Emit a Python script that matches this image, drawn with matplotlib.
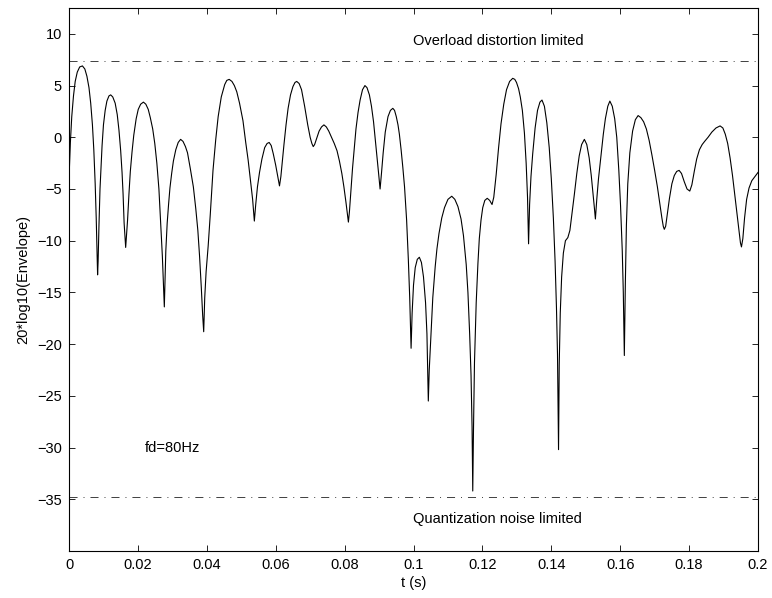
import matplotlib
matplotlib.use("Agg")
import matplotlib.pyplot as plt

plt.rcParams['font.family'] = ['Liberation Sans', 'DejaVu Sans']
plt.rcParams['lines.scale_dashes'] = False

# Envelope samples as (time s, level dB) pairs
samples = [
    (0.0000, -4.0), (0.0004, -0.5), (0.0008, 2.0), (0.0013, 4.0), (0.0018, 5.4), (0.0024, 6.3),
    (0.0031, 6.8), (0.0039, 6.9), (0.0046, 6.6), (0.0052, 5.9), (0.0058, 4.8), (0.0063, 3.3),
    (0.0068, 1.2), (0.0072, -1.2), (0.0076, -4.5), (0.0079, -7.8), (0.0081, -10.5), (0.0083, -13.3),
    (0.00845, -12.0), (0.0087, -8.5), (0.0090, -5.0), (0.0093, -2.8), (0.0096, -0.8), (0.0100, 1.2),
    (0.0105, 2.6), (0.0110, 3.5), (0.0116, 4.0), (0.0121, 4.1),
    (0.0127, 3.9), (0.0134, 3.3), (0.0140, 2.2), (0.0145, 0.7), (0.0150, -1.3), (0.0154, -3.4),
    (0.0157, -5.5), (0.0160, -8.3), (0.01645, -10.65),
    (0.0167, -9.5), (0.0170, -8.0), (0.0174, -5.5), (0.0178, -3.3), (0.0183, -1.4), (0.0188, 0.2),
    (0.0195, 1.8), (0.0201, 2.7), (0.0208, 3.2), (0.0216, 3.4),
    (0.0223, 3.2), (0.0230, 2.7), (0.0236, 1.9), (0.0243, 0.8), (0.0249, -0.6), (0.0255, -2.5),
    (0.0261, -5.0), (0.0266, -8.2), (0.0271, -11.5), (0.02743, -14.5), (0.02767, -16.4),
    (0.0279, -13.5), (0.0281, -11.0), (0.0285, -8.3), (0.0289, -6.5), (0.0293, -4.9), (0.0298, -3.5),
    (0.0303, -2.3), (0.0310, -1.2), (0.0317, -0.5), (0.0324, -0.2),
    (0.0331, -0.4), (0.0338, -0.9), (0.0344, -1.5), (0.0352, -3.0), (0.0361, -4.8), (0.0368, -6.9),
    (0.0374, -9.0), (0.0379, -11.5), (0.0384, -14.5), (0.0388, -17.2), (0.0391, -18.8),
    (0.0394, -15.5), (0.0398, -13.0), (0.0404, -10.5), (0.0410, -7.5), (0.0418, -3.2), (0.0426, -0.2),
    (0.0433, 2.0), (0.0442, 3.9), (0.0452, 5.1), (0.0458, 5.5), (0.0465, 5.6),
    (0.0473, 5.4), (0.0480, 5.0), (0.0487, 4.4), (0.0495, 3.3), (0.0505, 1.6), (0.0513, -0.5),
    (0.0520, -2.2), (0.0527, -4.2), (0.0533, -6.0), (0.0538, -8.1),
    (0.0542, -6.5), (0.0547, -4.8), (0.0553, -3.4), (0.0560, -2.1), (0.0568, -1.0), (0.0575, -0.6),
    (0.0581, -0.5), (0.0587, -0.8), (0.0593, -1.6), (0.0600, -2.7), (0.0606, -3.8), (0.0611, -4.7),
    (0.0615, -3.8), (0.0619, -2.4), (0.0624, -0.7), (0.0630, 1.2), (0.0636, 2.8), (0.0643, 4.1),
    (0.0650, 4.9), (0.0656, 5.3), (0.0661, 5.4),
    (0.0668, 5.2), (0.0675, 4.6), (0.0684, 3.0), (0.0693, 1.2), (0.0700, 0.0), (0.0705, -0.6),
    (0.0709, -0.9), (0.0713, -0.7), (0.0719, -0.1), (0.0726, 0.6), (0.0733, 1.0), (0.0740, 1.2),
    (0.0747, 1.0), (0.0754, 0.6), (0.0762, 0.0), (0.0770, -0.6), (0.0778, -1.3), (0.0785, -2.3),
    (0.0792, -3.5), (0.0798, -4.8), (0.0804, -6.3), (0.0808, -7.4), (0.0811, -8.2),
    (0.0814, -7.2), (0.0818, -5.3), (0.0823, -3.0), (0.0828, -1.1), (0.0833, 0.8), (0.0839, 2.4),
    (0.0845, 3.6), (0.0852, 4.6), (0.0859, 5.0),
    (0.0865, 4.8), (0.0872, 4.1), (0.0878, 3.0), (0.0884, 1.5), (0.0890, -0.5), (0.0895, -2.2),
    (0.0899, -3.6), (0.0903, -5.0),
    (0.0907, -3.5), (0.0912, -1.5), (0.0918, 0.5), (0.0926, 2.0), (0.0933, 2.6), (0.0940, 2.8),
    (0.0945, 2.6), (0.0950, 2.0), (0.0955, 1.2), (0.0959, 0.3), (0.0964, -1.2), (0.0969, -2.9),
    (0.0974, -4.8), (0.0980, -8.0), (0.0985, -11.8), (0.0989, -15.5), (0.0993, -20.4),
    (0.0996, -17.0), (0.1000, -14.3), (0.1005, -12.6), (0.1011, -11.8), (0.1017, -11.6),
    (0.1023, -12.1), (0.1029, -13.5), (0.1035, -16.0), (0.1039, -19.0), (0.1043, -25.5),
    (0.10457, -22.5), (0.1050, -19.5), (0.1056, -15.5), (0.1063, -12.5), (0.1068, -10.8),
    (0.1074, -9.3), (0.1082, -7.8), (0.1090, -6.8), (0.1100, -6.0), (0.1111, -5.7),
    (0.1120, -6.0), (0.1129, -6.7), (0.1138, -7.9), (0.1145, -9.5), (0.1153, -12.3), (0.1158, -15.0),
    (0.1163, -19.0), (0.1167, -23.0), (0.1170, -28.0), (0.1172, -34.2),
    (0.1174, -28.6), (0.1177, -21.8), (0.1182, -16.0), (0.1187, -12.2), (0.1191, -9.8), (0.1196, -8.0),
    (0.1201, -6.8), (0.1207, -6.1), (0.1214, -5.9), (0.1221, -6.1), (0.1228, -6.5),
    (0.1233, -5.8), (0.1240, -3.6), (0.1247, -1.0), (0.1254, 1.3), (0.1262, 3.2), (0.1270, 4.6),
    (0.1279, 5.4), (0.1288, 5.7),
    (0.1294, 5.6), (0.1299, 5.3), (0.1305, 4.7), (0.1310, 3.9), (0.1316, 2.6), (0.1322, 0.4),
    (0.1327, -2.5), (0.1331, -5.8), (0.1334, -10.3),
    (0.1337, -6.5), (0.1341, -3.8), (0.1346, -1.6), (0.1353, 0.9), (0.1360, 2.6), (0.1367, 3.4),
    (0.1373, 3.6),
    (0.1380, 3.0), (0.1387, 1.4), (0.1394, -1.0), (0.1400, -4.0), (0.1406, -7.8), (0.1411, -12.0),
    (0.1415, -16.5), (0.1418, -21.0), (0.1421, -30.2),
    (0.1423, -22.0), (0.1426, -17.0), (0.1430, -13.5), (0.1435, -11.2), (0.1441, -10.0), (0.1448, -9.7),
    (0.1454, -9.0), (0.1460, -7.4), (0.1467, -5.5), (0.1474, -3.5), (0.1481, -1.8), (0.1488, -0.7),
    (0.1496, -0.2),
    (0.1503, -0.7), (0.1510, -2.0), (0.1516, -3.7), (0.1521, -5.4), (0.1525, -6.8), (0.1528, -7.9),
    (0.1532, -6.0), (0.1537, -4.0), (0.1544, -1.8), (0.1551, 0.3), (0.1557, 1.8), (0.1564, 3.0),
    (0.1570, 3.5),
    (0.1577, 3.0), (0.1584, 1.8), (0.1590, 0.0), (0.1596, -3.2), (0.1601, -6.6), (0.1606, -11.0),
    (0.1609, -15.0), (0.1612, -21.1),
    (0.1615, -14.0), (0.1618, -8.5), (0.1622, -4.5), (0.1628, -1.5), (0.1636, 0.6), (0.1644, 1.7),
    (0.1652, 2.1),
    (0.1660, 1.9), (0.1668, 1.5), (0.1676, 0.8), (0.1684, -0.3), (0.1692, -1.7), (0.1700, -3.2),
    (0.1708, -4.8), (0.1715, -6.4), (0.1721, -7.8), (0.1725, -8.6), (0.1728, -8.9),
    (0.1732, -8.6), (0.1737, -7.4), (0.1743, -5.9), (0.1750, -4.5), (0.1757, -3.7), (0.1764, -3.3),
    (0.1771, -3.2), (0.1778, -3.5), (0.1786, -4.3), (0.1794, -5.0), (0.1802, -5.2),
    (0.1808, -4.6), (0.1815, -3.3), (0.1822, -2.1), (0.1830, -1.2), (0.1838, -0.7), (0.1845, -0.4),
    (0.1855, 0.0), (0.1866, 0.5), (0.1878, 0.9), (0.1890, 1.1),
    (0.1898, 0.9), (0.1905, 0.3), (0.1912, -0.6), (0.1919, -2.0), (0.1926, -3.7), (0.1933, -5.7),
    (0.1939, -7.5), (0.1945, -9.2), (0.1949, -10.2), (0.1952, -10.6),
    (0.1956, -9.8), (0.1961, -7.8), (0.1967, -6.0), (0.1974, -4.9), (0.1982, -4.2), (0.1991, -3.8),
    (0.2000, -3.4),
]
t = [s[0] for s in samples]
level_db = [s[1] for s in samples]

overload_db = 7.4
quant_db = -34.8
xticks = [0, 0.02, 0.04, 0.06, 0.08, 0.1, 0.12, 0.14, 0.16, 0.18, 0.2]
xticklabels = ['0', '0.02', '0.04', '0.06', '0.08', '0.1', '0.12', '0.14', '0.16', '0.18', '0.2']
yticks = [10, 5, 0, -5, -10, -15, -20, -25, -30, -35]

fig = plt.figure(figsize=(7.72, 5.98), dpi=100)
ax = fig.add_axes([69 / 772, 47 / 598, 689 / 772, 543 / 598])

ax.plot(t, level_db, color='black', lw=0.8, solid_joinstyle='round')
dash = (0, (5.8, 4.3, 0.7, 4.3))
ax.axhline(overload_db, color='0.25', lw=0.7, linestyle=dash)
ax.axhline(quant_db, color='0.25', lw=0.7, linestyle=dash)

fs = 10.5
ax.text(0.1245, 9.3, 'Overload distortion limited', ha='center', va='center', fontsize=fs)
ax.text(0.1245, -36.9, 'Quantization noise limited', ha='center', va='center', fontsize=fs)
ax.text(0.022, -30.0, 'fd=80Hz', ha='left', va='center', fontsize=fs)

ax.set_xlim(0, 0.2)
ax.set_ylim(-40, 12.5)
ax.set_xticks(xticks)
ax.set_xticklabels(xticklabels)
ax.set_yticks(yticks)
ax.set_yticklabels([str(v).replace('-', '\u2212') for v in yticks])
ax.tick_params(direction='in', top=True, right=True, length=4, width=0.6, labelsize=fs, pad=5)
for s in ax.spines.values():
    s.set_linewidth(0.8)

ax.set_xlabel('t (s)', fontsize=fs, labelpad=3)
ax.set_ylabel('20*log10(Envelope)', fontsize=fs, labelpad=5)

fig.savefig('out.png', dpi=100)
